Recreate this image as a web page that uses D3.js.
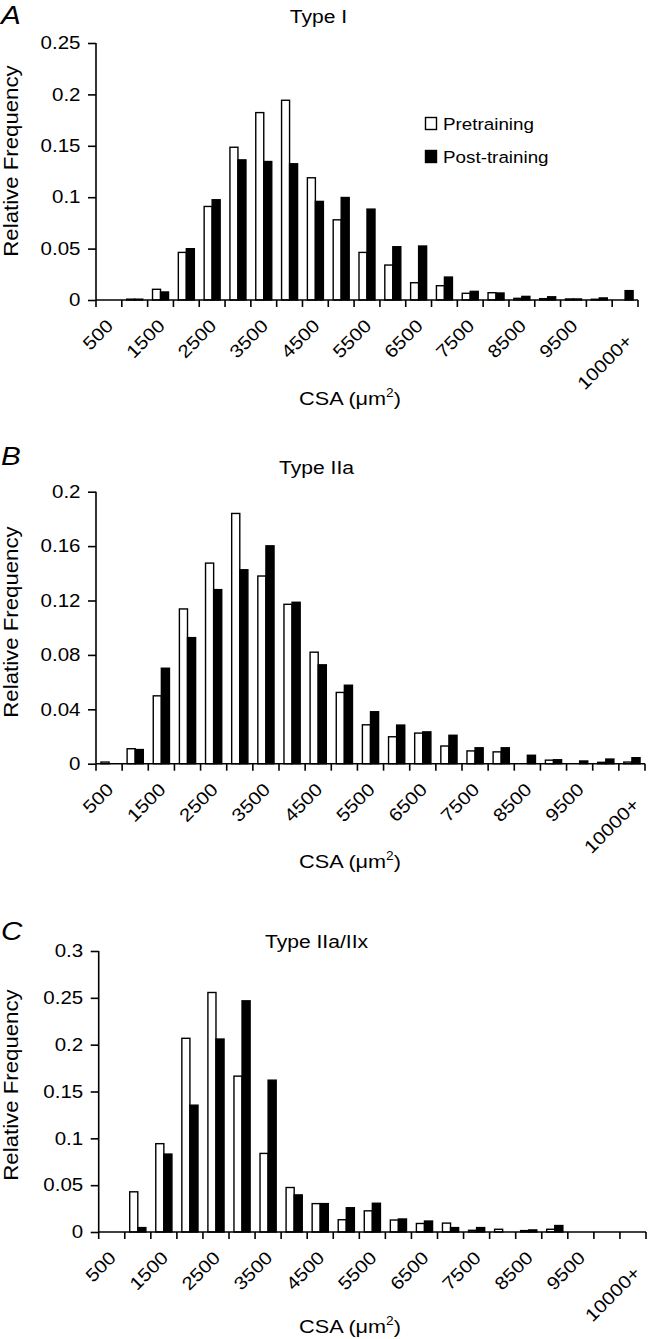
<!DOCTYPE html>
<html>
<head>
<meta charset="utf-8">
<script src="https://cdn.jsdelivr.net/npm/d3@7"></script>
<style>
  html, body { margin: 0; padding: 0; background: #fff; }
  svg { display: block; }
  text { font-family: "Liberation Sans", Arial, Helvetica, sans-serif; fill: #000; }
</style>
</head>
<body>
<svg id="chart" width="650" height="1339"></svg>
<script>
// ---------------- DATA ----------------
const categories = ["500","1000","1500","2000","2500","3000","3500","4000","4500","5000",
  "5500","6000","6500","7000","7500","8000","8500","9000","9500","10000","10000+"];
const seriesNames = ["Pretraining", "Post-training"];

const typeI_pre  = [0, 0.0008, 0.0104, 0.0463, 0.091, 0.1486, 0.1823, 0.1943, 0.1189, 0.078, 0.0463,
  0.034, 0.0168, 0.0139, 0.0065, 0.0071, 0.0016, 0.0013, 0.001, 0.0007, 0];
const typeI_post = [0, 0.0008, 0.0078, 0.0499, 0.0975, 0.1363, 0.1347, 0.1325, 0.0959, 0.0997, 0.0884,
  0.0518, 0.0525, 0.0223, 0.0084, 0.0068, 0.0035, 0.0031, 0.001, 0.002, 0.0091];

const typeIIa_pre  = [0.0012, 0.011, 0.0499, 0.1138, 0.1475, 0.184, 0.138, 0.1172, 0.082, 0.0524, 0.0286,
  0.0198, 0.0225, 0.013, 0.0094, 0.0087, 0, 0.0026, 0, 0.001, 0.0012];
const typeIIa_post = [0, 0.0104, 0.0702, 0.0927, 0.128, 0.1426, 0.1602, 0.1187, 0.0727, 0.0577, 0.0382,
  0.0284, 0.0234, 0.0209, 0.0117, 0.0117, 0.0062, 0.0029, 0.002, 0.0034, 0.0044];

const typeIIaIIx_pre  = [0, 0.0429, 0.0943, 0.2068, 0.2557, 0.1664, 0.0839, 0.0475, 0.0303, 0.0131, 0.0226,
  0.0128, 0.0091, 0.0095, 0.0018, 0.0029, 0.0015, 0.0029, 0, 0, 0];
const typeIIaIIx_post = [0, 0.0047, 0.0832, 0.1354, 0.206, 0.2468, 0.1621, 0.0396, 0.0303, 0.0259, 0.0307,
  0.0139, 0.0117, 0.0047, 0.0047, 0, 0.0022, 0.0069, 0, 0, 0];

const yTicksA = [0, 0.05, 0.1, 0.15, 0.2, 0.25];
const yTicksB = [0, 0.04, 0.08, 0.12, 0.16, 0.2];
const yTicksC = [0, 0.05, 0.1, 0.15, 0.2, 0.25, 0.3];

const titles = ["Type I", "Type IIa", "Type IIa/IIx"];
const panelLetters = ["A", "B", "C"];
const yAxisTitle = "Relative Frequency";

// ---------------- LAYOUT ----------------
const SX = 1.14; // glyphs in the reference are wider than Arial along the reading direction
const panels = [
  { pre: typeI_pre, post: typeI_post, ticks: yTicksA, title: titles[0], letter: panelLetters[0],
    left: 96, right: 638, top: 43, bottom: 300, titleX: 318.5, titleY: 23, letterY: 24,
    csaY: 405, yLabY: 161, legend: true },
  { pre: typeIIa_pre, post: typeIIa_post, ticks: yTicksB, title: titles[1], letter: panelLetters[1],
    left: 96, right: 645, top: 491.7, bottom: 763.7, titleX: 316.5, titleY: 474, letterY: 465,
    csaY: 868, yLabY: 622, legend: false },
  { pre: typeIIaIIx_pre, post: typeIIaIIx_post, ticks: yTicksC, title: titles[2], letter: panelLetters[2],
    left: 98.7, right: 646, top: 951, bottom: 1232, titleX: 316.5, titleY: 948, letterY: 940,
    csaY: 1333, yLabY: 1085, legend: false }
];

const svg = d3.select("#chart");
const fmt = d => String(+d.toFixed(2));

function stext(parent, x, y, str, size, anchor, rot) {
  return parent.append("text")
    .attr("transform", `translate(${x},${y}) rotate(${rot || 0}) scale(${SX},1)`)
    .attr("text-anchor", anchor || "start")
    .attr("font-size", size)
    .text(str);
}

panels.forEach(p => {
  const g = svg.append("g");
  const x = d3.scaleBand().domain(categories).range([p.left, p.right]).padding(0);
  const xs = d3.scaleBand().domain(seriesNames).range([0.19 * x.bandwidth(), 0.81 * x.bandwidth()]);
  const y = d3.scaleLinear().domain([0, d3.max(p.ticks)]).range([p.bottom, p.top]);

  const rows = categories.map((c, i) => ({ c, vals: [
    { s: seriesNames[0], v: p.pre[i] }, { s: seriesNames[1], v: p.post[i] } ] }));

  // bars
  g.append("g").selectAll("g").data(rows).join("g")
    .attr("transform", d => `translate(${x(d.c)},0)`)
    .selectAll("rect").data(d => d.vals.filter(e => e.v > 0)).join("rect")
    .attr("x", d => xs(d.s))
    .attr("width", xs.bandwidth())
    .attr("y", d => y(d.v))
    .attr("height", d => p.bottom - y(d.v))
    .attr("fill", d => d.s === seriesNames[0] ? "#fff" : "#000")
    .attr("stroke", "#000")
    .attr("stroke-width", 1.4);

  // y axis
  const yAxis = d3.axisLeft(y).tickValues(p.ticks).tickFormat(fmt).tickSize(8).tickPadding(0);
  const ya = g.append("g").attr("transform", `translate(${p.left},0)`).call(yAxis);
  ya.select(".domain").attr("stroke", "#000").attr("stroke-width", 1.6).attr("d", `M0,${p.top}V${p.bottom}`);
  ya.selectAll(".tick line").attr("stroke", "#000").attr("stroke-width", 1.6);
  ya.selectAll(".tick text")
    .attr("x", 0)
    .attr("transform", `translate(-15.5,0) scale(${SX},1)`)
    .attr("font-size", 18)
    .attr("font-family", "Liberation Sans, Arial, sans-serif")
    .attr("fill", "#000");

  // x axis: line + boundary ticks
  const xa = g.append("g");
  xa.append("line").attr("x1", p.left).attr("x2", p.right).attr("y1", p.bottom).attr("y2", p.bottom)
    .attr("stroke", "#000").attr("stroke-width", 1.6);
  const bounds = categories.map(c => x(c)).concat([x(categories[categories.length - 1]) + x.bandwidth()]);
  xa.selectAll("line.tk").data(bounds).join("line").attr("class", "tk")
    .attr("x1", d => d).attr("x2", d => d).attr("y1", p.bottom).attr("y2", p.bottom + 7)
    .attr("stroke", "#000").attr("stroke-width", 1.6);
  categories.forEach((c, i) => {
    if (i % 2 !== 0) return;
    const long = c.length > 5;
    stext(xa, x(c) + x.bandwidth() / 2 + 1 + (long ? 3 : 0), p.bottom + 22.5 + (long ? 15 : 0), c, 18, "end", -45)
      .attr("dy", "0.35em");
  });

  // x axis title
  const csa = stext(g, 350, p.csaY, "", 19, "middle");
  csa.append("tspan").text("CSA (\u03bcm");
  csa.append("tspan").attr("font-size", 12).attr("dy", -8).text("2");
  csa.append("tspan").attr("dy", 8).text(")");

  // y axis title
  stext(g, 17.5, p.yLabY, yAxisTitle, 19.5, "middle", -90);

  // panel title
  stext(g, p.titleX, p.titleY, p.title, 18.5, "middle");

  // panel letter
  stext(g, 1, p.letterY, p.letter, 26).attr("font-style", "italic");

  // legend
  if (p.legend) {
    const lg = g.append("g").attr("transform", "translate(425,117)");
    seriesNames.forEach((s, i) => {
      lg.append("rect").attr("x", 0.5).attr("y", i * 33 + 0.5).attr("width", 11).attr("height", 12)
        .attr("fill", i === 0 ? "#fff" : "#000").attr("stroke", "#000").attr("stroke-width", 1.4);
      stext(lg, 18, i * 33 + 13, s, 16.5);
    });
  }
});
</script>
</body>
</html>
